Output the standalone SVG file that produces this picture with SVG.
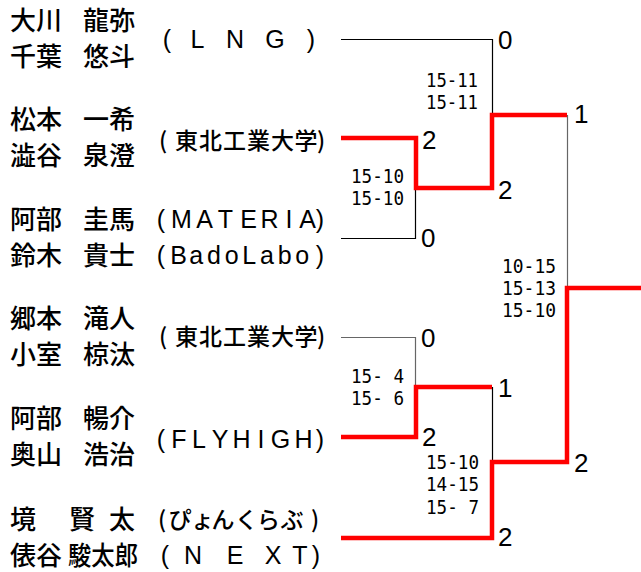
<svg xmlns="http://www.w3.org/2000/svg" width="641" height="572" viewBox="0 0 641 572">
<style>
.nm{font-family:"Noto Sans CJK JP",sans-serif;font-size:26px;font-weight:500;fill:#000}
.tm{font-family:"Liberation Sans","Noto Sans CJK JP",sans-serif;font-size:25px;fill:#000;text-anchor:middle}
.tj{font-family:"Noto Sans CJK JP",sans-serif;font-size:23px;font-weight:500;fill:#000;text-anchor:middle}
.gs{font-family:"DejaVu Sans Mono",monospace;font-size:18.8px;fill:#000}
.pt{font-family:"Liberation Sans",sans-serif;font-size:26px;fill:#000}
.ln{fill:none;stroke:#000;stroke-width:1.2}
.lg{fill:none;stroke:#666;stroke-width:1.2}
.win{fill:none;stroke:#ff0000;stroke-width:4.5;stroke-linejoin:miter;stroke-linecap:butt}
</style>
<rect width="641" height="572" fill="#fff"/>
<g id="connectors">
<path class="ln" d="M341,39.5 H492.5 V115"/>
<path class="ln" d="M341,238.5 H415.5 V188"/>
<path class="lg" d="M567.5,115 V288"/>
<path class="lg" d="M341,337.5 H415.5 V387"/>
<path class="ln" d="M492.5,387 V462"/>
<path class="win" d="M341,138 H416 V188 H492 V115 H567"/>
<path class="win" d="M341,437 H416 V387 H492"/>
<path class="win" d="M341,538 H492 V462 H567 V288 H641"/>
</g>
<g id="team1">
<text class="nm" x="10" y="30">大川</text><text class="nm" x="83" y="30">龍弥</text>
<text class="nm" x="10" y="66">千葉</text><text class="nm" x="83" y="66">悠斗</text>
<text class="tm" x="167 197.5 235 275 311" y="48">(LNG)</text>
</g>
<g id="team2">
<text class="nm" x="10" y="129">松本</text><text class="nm" x="83" y="129">一希</text>
<text class="nm" x="10" y="165">澁谷</text><text class="nm" x="83" y="165">泉澄</text>
<text class="tj" x="163 186.5 210.5 234.5 258.5 282.5 306 321" y="149">(東北工業大学)</text>
</g>
<g id="team3">
<text class="nm" x="10" y="229">阿部</text><text class="nm" x="83" y="229">圭馬</text>
<text class="nm" x="10" y="265">鈴木</text><text class="nm" x="83" y="265">貴士</text>
<text class="tm" x="161 181.5 204.5 225.5 248.5 269.5 289 307.5 320" y="228">(MATERIA)</text>
<text class="tm" x="161 178.7 196.3 214 231.7 249.3 267 284.7 302.3 320" y="264">(BadoLabo)</text>
</g>
<g id="team4">
<text class="nm" x="10" y="328">郷本</text><text class="nm" x="83" y="328">滝人</text>
<text class="nm" x="10" y="364">小室</text><text class="nm" x="83" y="364">椋汰</text>
<text class="tj" x="163 186.5 210.5 234.5 258.5 282.5 306 321" y="345">(東北工業大学)</text>
</g>
<g id="team5">
<text class="nm" x="10" y="428">阿部</text><text class="nm" x="83" y="428">暢介</text>
<text class="nm" x="10" y="464">奥山</text><text class="nm" x="83" y="464">浩治</text>
<text class="tm" x="161 179 199 220 241.5 261 280.5 303.5 320" y="448">(FLYHIGH)</text>
</g>
<g id="team6">
<text class="nm" x="10" y="529">境</text><text class="nm" x="69 109" y="529">賢太</text>
<text class="nm" x="10" y="565">俵谷</text><text class="nm" x="68" y="565" textLength="70" lengthAdjust="spacingAndGlyphs">駿太郎</text>
<text class="tj" x="162 180 202.5 223 246.5 268.5 292 315" y="528">(ぴょんくらぶ)</text>
<text class="tm" x="165 193 235 273 300 316" y="564">(NEXT)</text>
</g>
<g id="scores">
<text class="gs" x="426" y="87" textLength="52" lengthAdjust="spacingAndGlyphs">15-11</text>
<text class="gs" x="426" y="109" textLength="52" lengthAdjust="spacingAndGlyphs">15-11</text>
<text class="gs" x="351" y="183" textLength="53" lengthAdjust="spacingAndGlyphs">15-10</text>
<text class="gs" x="351" y="205" textLength="53" lengthAdjust="spacingAndGlyphs">15-10</text>
<text class="gs" x="502" y="273" textLength="54" lengthAdjust="spacingAndGlyphs">10-15</text>
<text class="gs" x="502" y="295" textLength="54" lengthAdjust="spacingAndGlyphs">15-13</text>
<text class="gs" x="502" y="317" textLength="54" lengthAdjust="spacingAndGlyphs">15-10</text>
<text class="gs" x="351" y="383" textLength="53" lengthAdjust="spacingAndGlyphs">15- 4</text>
<text class="gs" x="351" y="405" textLength="53" lengthAdjust="spacingAndGlyphs">15- 6</text>
<text class="gs" x="426" y="469" textLength="53" lengthAdjust="spacingAndGlyphs">15-10</text>
<text class="gs" x="426" y="491" textLength="53" lengthAdjust="spacingAndGlyphs">14-15</text>
<text class="gs" x="426" y="514" textLength="53" lengthAdjust="spacingAndGlyphs">15- 7</text>
<text class="pt" x="498" y="49">0</text>
<text class="pt" x="422" y="149">2</text>
<text class="pt" x="498" y="199">2</text>
<text class="pt" x="574" y="123">1</text>
<text class="pt" x="421" y="247">0</text>
<text class="pt" x="421" y="347">0</text>
<text class="pt" x="498" y="397">1</text>
<text class="pt" x="422" y="446">2</text>
<text class="pt" x="574" y="472">2</text>
<text class="pt" x="498" y="546">2</text>
</g>
</svg>
